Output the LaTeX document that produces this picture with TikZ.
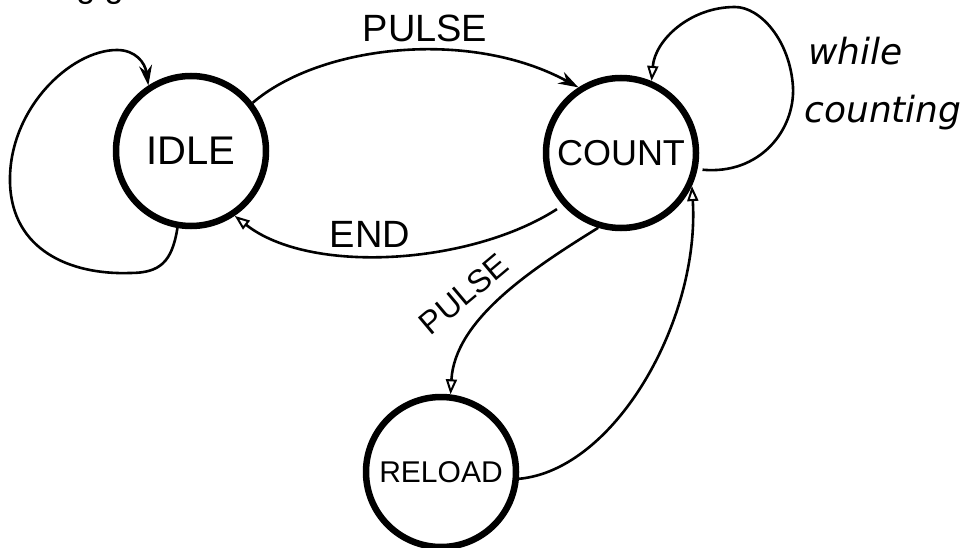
\documentclass[tikz,border=0pt]{standalone}
\usepackage{fontspec}
\setmainfont{Liberation Sans}
\newfontfamily\handfont{DejaVu Sans}
\usetikzlibrary{arrows.meta}

\tikzset{
  state/.style={circle, draw, line width=6.5pt, minimum size=150pt, inner sep=0pt},
  link/.style={line width=2.6pt},
  solidtip/.style={-{Stealth[length=20pt,width=13pt]}},
  opentip/.style={-{Triangle[open,length=15pt,width=11pt,line width=2pt]}},
  lbl/.style={inner sep=1pt}
}

\begin{document}
\begin{tikzpicture}[x=1pt,y=-1pt]
  \useasboundingbox (0,0) rectangle (972,548);
  \fill[white] (0,0) rectangle (972,548);

  % states
  \node[state, font=\fontsize{40}{42}\selectfont] (idle)   at (191,151) {IDLE};
  \node[state, font=\fontsize{36}{38}\selectfont] (count)  at (621,153) {COUNT};
  \node[state, font=\fontsize{30}{32}\selectfont] (reload) at (441,472) {RELOAD};

  % descenders of a line of text above the sheet edge
  \node[anchor=base, font=\fontsize{34}{36}\selectfont, inner sep=0pt] (topnote) at (100,-2) {g g};

  % IDLE holds itself
  \draw[link, solidtip] (idle.260)
    .. controls (172,262) and (160,273) .. (130,273)
    .. controls (70,275) and (12,250) .. (10,183)
    .. controls (8,110) and (70,50) .. (117,50)
    .. controls (135,50) and (145,62) .. (idle.123);

  % IDLE -> COUNT
  \draw[link, solidtip] (idle.38) .. controls (320,45) and (470,28) .. (count.123);
  \node[lbl, font=\fontsize{38}{40}\selectfont] (pulseA) at (425,28) {PULSE};

  % COUNT -> IDLE
  \draw[link, opentip, shorten <=7pt] (count.222) .. controls (470,265) and (310,275) .. (idle.304);
  \node[lbl, font=\fontsize{38}{40}\selectfont] (endlbl) at (370,234) {END};

  % COUNT holds itself
  \draw[link, opentip, shorten <=5pt] (count.-12)
    .. controls (760,175) and (795,130) .. (793,87)
    .. controls (790,40) and (760,7) .. (735,7)
    .. controls (690,7) and (655,40) .. (count.67);
  \node[lbl, font=\handfont\itshape\fontsize{36}{58}\selectfont, align=left] (whilelbl) at (883,84)
    {\hspace*{4pt}while\\counting};

  % COUNT -> RELOAD
  \draw[link, opentip] (count.253) .. controls (530,270) and (455,320) .. (reload.83);
  \node[lbl, rotate=40, font=\fontsize{32}{34}\selectfont] (pulseB) at (464,294) {PULSE};

  % RELOAD -> COUNT
  \draw[link, opentip] (reload.-5) .. controls (615,470) and (700,320) .. (count.-25);
\end{tikzpicture}
\end{document}
